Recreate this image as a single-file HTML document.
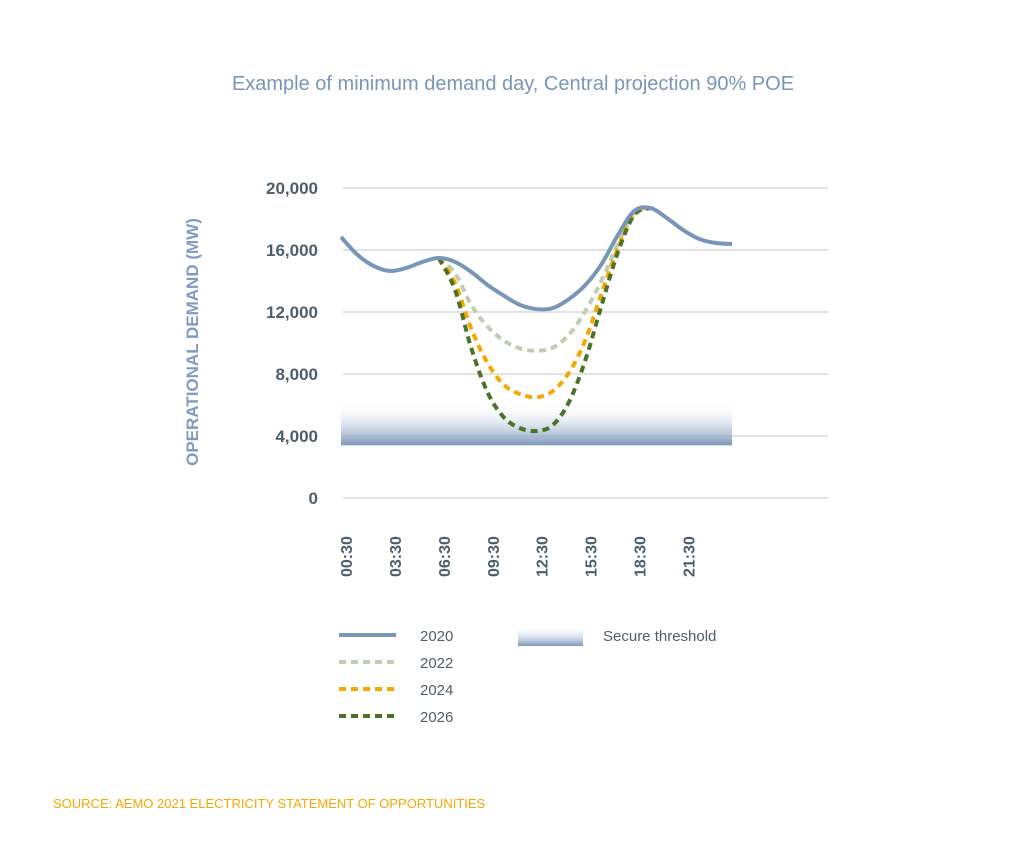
<!DOCTYPE html>
<html><head><meta charset="utf-8"><style>
body{margin:0;background:#fff;font-family:"Liberation Sans",sans-serif;}
svg text{font-family:"Liberation Sans",sans-serif;}
</style></head><body>
<svg id="chart" width="1027" height="858" viewBox="0 0 1027 858">
<defs>
<linearGradient id="band" x1="0" y1="0" x2="0" y2="1">
<stop offset="0" stop-color="#ffffff" stop-opacity="0"/>
<stop offset="1" stop-color="#7b97ba"/>
</linearGradient>
</defs>
<text x="513" y="90" text-anchor="middle" font-size="20" fill="#7896b8">Example of minimum demand day, Central projection 90% POE</text>
<g id="grid"></g>
<g id="band-g"></g>
<g id="series"></g>
<g id="yticks"></g>
<g id="xticks"></g>
<text transform="translate(198,342) rotate(-90)" text-anchor="middle" font-size="17" font-weight="bold" fill="#7f9cc0">OPERATIONAL DEMAND (MW)</text>
<g>
<line x1="339" y1="635" x2="396" y2="635" stroke="#7896b8" stroke-width="4"/>
<text x="420" y="641" font-size="15" fill="#4d5e6c">2020</text>
<line x1="339" y1="662" x2="396" y2="662" stroke="#bfcdb1" stroke-width="4" stroke-dasharray="7,5"/>
<text x="420" y="668" font-size="15" fill="#4d5e6c">2022</text>
<line x1="339" y1="689" x2="396" y2="689" stroke="#f5a800" stroke-width="4" stroke-dasharray="7,5"/>
<text x="420" y="695" font-size="15" fill="#4d5e6c">2024</text>
<line x1="339" y1="716" x2="396" y2="716" stroke="#4a7229" stroke-width="4" stroke-dasharray="7,5"/>
<text x="420" y="722" font-size="15" fill="#4d5e6c">2026</text>
<rect x="518" y="626" width="65" height="20" fill="url(#band)"/>
<text x="603" y="641" font-size="15" fill="#4d5e6c">Secure threshold</text>
</g>
<text x="53" y="808" font-size="13" fill="#f5a800">SOURCE: AEMO 2021 ELECTRICITY STATEMENT OF OPPORTUNITIES</text>
</svg>
<script>
const hours=[0,1,2,3,4,5,6,7,8,9,10,11,12,13,14,15,16,17,18,19,20,21,22,23,24];
const s2020=[16840,15700,14970,14650,14840,15230,15480,15230,14580,13740,13050,12450,12190,12250,12840,13740,15100,16970,18520,18710,18060,17290,16710,16450,16390];
const s2022=[null,null,null,null,null,null,15480,14500,12450,11050,10150,9650,9500,9700,10550,12060,14060,16390,18390,18710];
const s2024=[null,null,null,null,null,null,15480,13870,10900,8700,7300,6700,6500,6900,8100,10190,13230,16130,18320,18710];
const s2026=[null,null,null,null,null,null,15480,13420,9650,6800,5200,4500,4320,4700,6200,8900,12450,15870,18260,18710];
const yTicks=[0,4000,8000,12000,16000,20000];
const xTickLabels=["00:30","03:30","06:30","09:30","12:30","15:30","18:30","21:30"];
const xTickHours=[0.5,3.5,6.5,9.5,12.5,15.5,18.5,21.5];
const secureLow=3400, secureHigh=6200;

const NS="http://www.w3.org/2000/svg";
const X=h=>341+h*(732-341)/24;
const Y=v=>498-v*(310/20000);
function mk(tag,attrs,parent){const e=document.createElementNS(NS,tag);for(const k in attrs)e.setAttribute(k,attrs[k]);document.getElementById(parent).appendChild(e);return e;}
yTicks.forEach(v=>{
  const l=mk('line',{x1:343,x2:828,y1:Y(v),y2:Y(v),stroke:'#d9d9d9','stroke-width':1.5},'grid');
  
  
  const t=mk('text',{x:318,y:Y(v)+6,'text-anchor':'end','font-size':17,'font-weight':'bold',fill:'#4d5e6c'},'yticks');
  t.textContent=v.toLocaleString('en-US');
  
  
});
xTickLabels.forEach((lab,i)=>{
  const x=X(xTickHours[i])-3;
  const t=mk('text',{x:0,y:0,transform:`translate(${x+6},577) rotate(-90)`,'font-size':16,'font-weight':'bold',fill:'#4d5e6c'},'xticks');
  t.textContent=lab;
  
  
});
const b=mk('rect',{x:X(0),y:Y(secureHigh),width:X(24)-X(0),height:Y(secureLow)-Y(secureHigh),fill:'url(#band)'},'band-g');


function path(vals){
  const pts=[];vals.forEach((v,i)=>{if(v!=null)pts.push([X(hours[i]),Y(v)]);});
  let d=`M${pts[0][0]},${pts[0][1]}`;
  for(let i=0;i<pts.length-1;i++){
    const p0=pts[i-1]||pts[i],p1=pts[i],p2=pts[i+1],p3=pts[i+2]||p2;
    const c1=[p1[0]+(p2[0]-p0[0])/6,p1[1]+(p2[1]-p0[1])/6];
    const c2=[p2[0]-(p3[0]-p1[0])/6,p2[1]-(p3[1]-p1[1])/6];
    d+=`C${c1[0]},${c1[1]} ${c2[0]},${c2[1]} ${p2[0]},${p2[1]}`;
  }
  return d;
}
[[s2020,'#7896b8',null,'line-2020'],[s2022,'#bfcdb1','7,5','line-2022'],[s2024,'#f5a800','7,5','line-2024'],[s2026,'#4a7229','7,5','line-2026']].forEach(([s,c,da,n])=>{
  const a={d:path(s),fill:'none',stroke:c,'stroke-width':4};
  if(da)a['stroke-dasharray']=da;
  const p=mk('path',a,'series');
  
  
});
document.getElementById('series').appendChild(document.getElementById('series').firstChild);
</script>
</body></html>
